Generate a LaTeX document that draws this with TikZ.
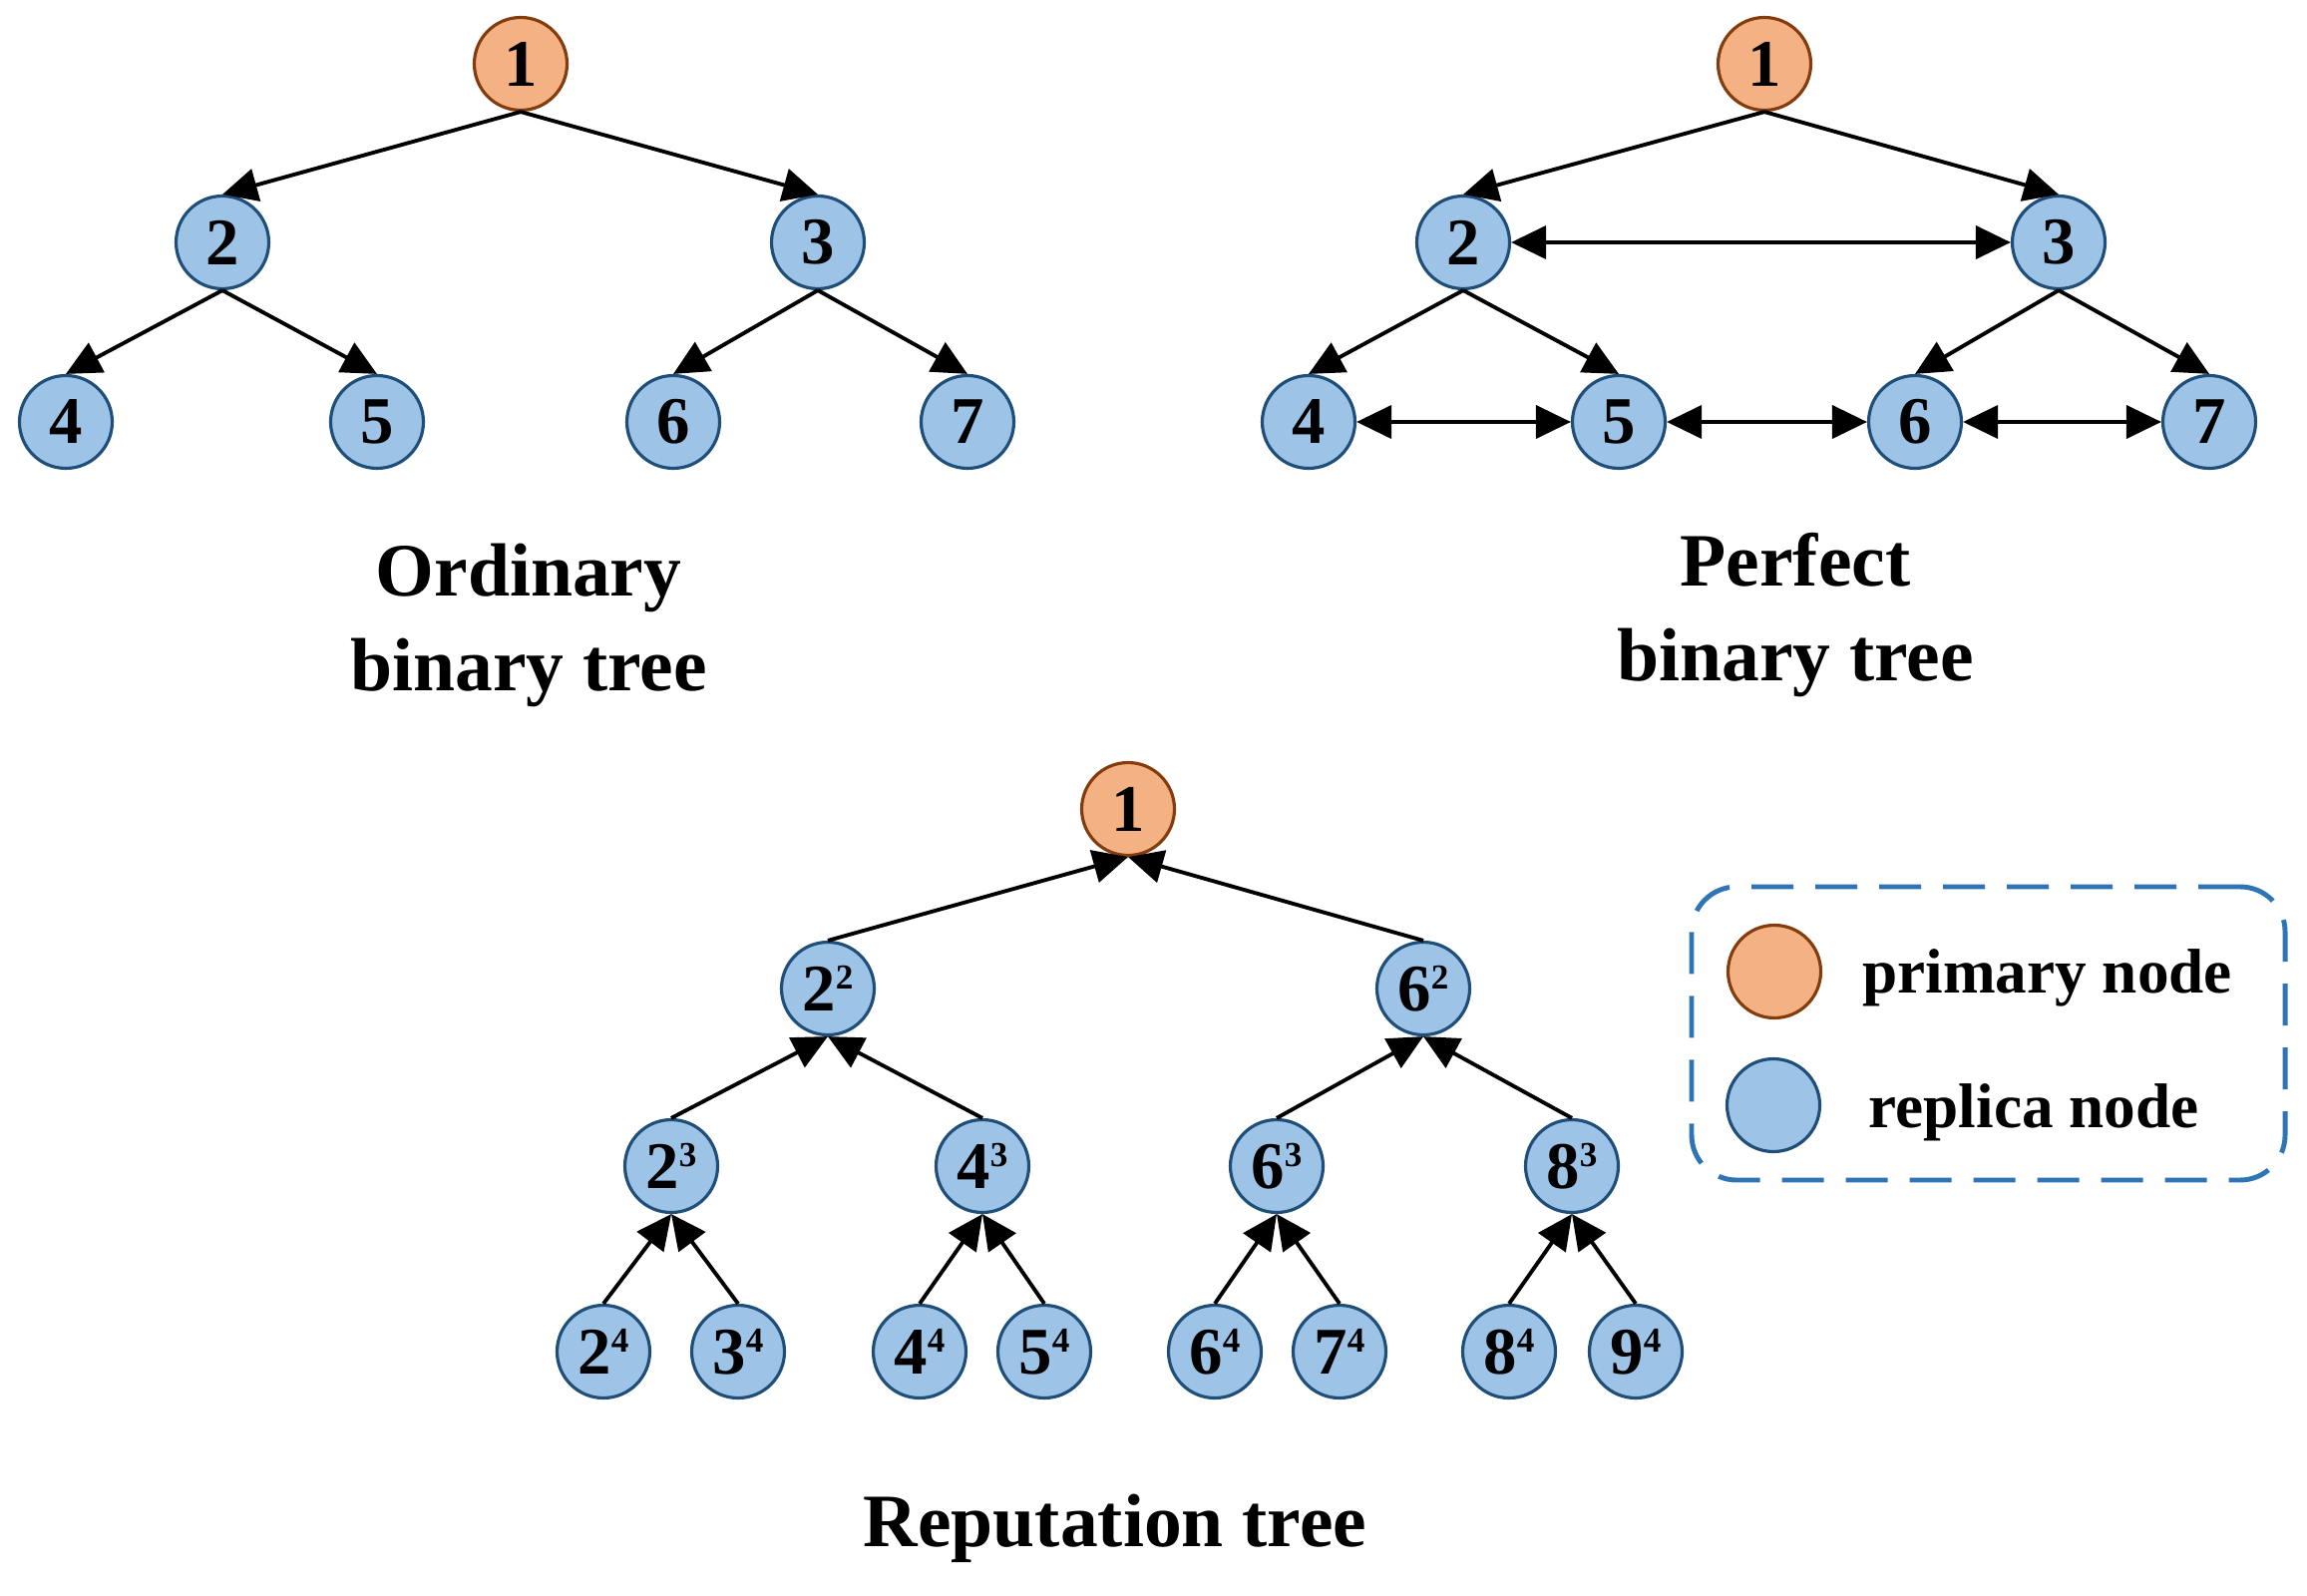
\documentclass[tikz,border=0pt]{standalone}
\usepackage{fontspec}
\setmainfont{Liberation Serif}
\usepackage{xcolor}
\usepackage{tikz}
\usetikzlibrary{arrows.meta}

\definecolor{prifill}{HTML}{F4B183}
\definecolor{pridraw}{HTML}{843C0C}
\definecolor{repfill}{HTML}{9DC3E6}
\definecolor{repdraw}{HTML}{1F4E79}
\definecolor{legblue}{HTML}{2E75B6}

% level label with a small raised index
\newcommand{\rpw}[2]{#1\raisebox{6.2pt}{\fontsize{10}{10}\selectfont #2}}

\begin{document}
\begin{tikzpicture}[
        pnode/.style={circle, draw=pridraw, fill=prifill, line width=0.9pt,
                      minimum size=0.93cm, inner sep=0pt,
                      font=\fontsize{19}{19}\selectfont\bfseries},
        rnode/.style={pnode, draw=repdraw, fill=repfill},
        arr/.style={-{Triangle[length=0.35cm, width=0.33cm]}, line width=1.1pt},
        darr/.style={{Triangle[length=0.35cm, width=0.33cm]}-{Triangle[length=0.35cm, width=0.33cm]}, line width=1.1pt},
        ttl/.style={align=center, anchor=base, inner sep=0pt,
                    font=\fontsize{21.5}{27}\selectfont\bfseries},
        legtext/.style={anchor=base west, inner sep=0pt,
                        font=\fontsize{18}{18}\selectfont\bfseries}
    ]
        \useasboundingbox (0,0) rectangle (23.13,-16);

        % ordinary binary tree
        \node[pnode] (o1) at ( 5.22, -0.64) {1};
        \node[rnode] (o2) at ( 2.23, -2.43) {2};
        \node[rnode] (o3) at ( 8.20, -2.43) {3};
        \node[rnode] (o4) at ( 0.66, -4.23) {4};
        \node[rnode] (o5) at ( 3.78, -4.23) {5};
        \node[rnode] (o6) at ( 6.75, -4.23) {6};
        \node[rnode] (o7) at ( 9.70, -4.23) {7};
        \foreach \a/\b in {o1/o2, o1/o3, o2/o4, o2/o5, o3/o6, o3/o7}
            \draw[arr] (\a.south)--(\b.north);
        % base anchor sits on the last line
        \node[ttl] (otitle) at (5.30, -6.92) {Ordinary\\binary tree};

        % perfect binary tree
        \node[pnode] (p1) at (17.69, -0.64) {1};
        \node[rnode] (p2) at (14.67, -2.43) {2};
        \node[rnode] (p3) at (20.64, -2.43) {3};
        \node[rnode] (p4) at (13.12, -4.23) {4};
        \node[rnode] (p5) at (16.23, -4.23) {5};
        \node[rnode] (p6) at (19.20, -4.23) {6};
        \node[rnode] (p7) at (22.15, -4.23) {7};
        \foreach \a/\b in {p1/p2, p1/p3, p2/p4, p2/p5, p3/p6, p3/p7}
            \draw[arr] (\a.south)--(\b.north);
        \foreach \a/\b in {p2/p3, p4/p5, p5/p6, p6/p7}
            \draw[darr] (\a.east)--(\b.west);
        \node[ttl] (ptitle) at (18.00, -6.82) {Perfect\\binary tree};

        % reputation tree
        \node[pnode] (r1)  at (11.31,  -8.11) {1};
        \node[rnode] (r22) at ( 8.30,  -9.91) {\rpw{2}{2}};
        \node[rnode] (r62) at (14.27,  -9.91) {\rpw{6}{2}};
        \node[rnode] (r23) at ( 6.73, -11.69) {\rpw{2}{3}};
        \node[rnode] (r43) at ( 9.85, -11.69) {\rpw{4}{3}};
        \node[rnode] (r63) at (12.80, -11.69) {\rpw{6}{3}};
        \node[rnode] (r83) at (15.76, -11.69) {\rpw{8}{3}};
        \node[rnode] (r24) at ( 6.05, -13.55) {\rpw{2}{4}};
        \node[rnode] (r34) at ( 7.40, -13.55) {\rpw{3}{4}};
        \node[rnode] (r44) at ( 9.22, -13.55) {\rpw{4}{4}};
        \node[rnode] (r54) at (10.47, -13.55) {\rpw{5}{4}};
        \node[rnode] (r64) at (12.18, -13.55) {\rpw{6}{4}};
        \node[rnode] (r74) at (13.43, -13.55) {\rpw{7}{4}};
        \node[rnode] (r84) at (15.13, -13.55) {\rpw{8}{4}};
        \node[rnode] (r94) at (16.40, -13.55) {\rpw{9}{4}};
        \foreach \a/\b in {r22/r1, r62/r1, r23/r22, r43/r22, r63/r62, r83/r62,
                           r24/r23, r34/r23, r44/r43, r54/r43,
                           r64/r63, r74/r63, r84/r83, r94/r83}
            \draw[arr] (\a.north)--(\b.south);
        \node[ttl] (rtitle) at (11.18, -15.50) {Reputation tree};

        % legend
        \node[draw=legblue, line width=1.4pt, dash pattern=on 0.42cm off 0.22cm,
              rounded corners=0.45cm, minimum width=5.95cm, minimum height=2.94cm]
              (legend) at (19.935, -10.36) {};
        \node[pnode] (lp) at (17.79,  -9.74) {};
        \node[rnode] (lr) at (17.78, -11.08) {};
        \node[legtext] (lpt) at (18.665,  -9.95) {primary node};
        \node[legtext] (lrt) at (18.73,  -11.30) {replica node};
    \end{tikzpicture}
\end{document}
